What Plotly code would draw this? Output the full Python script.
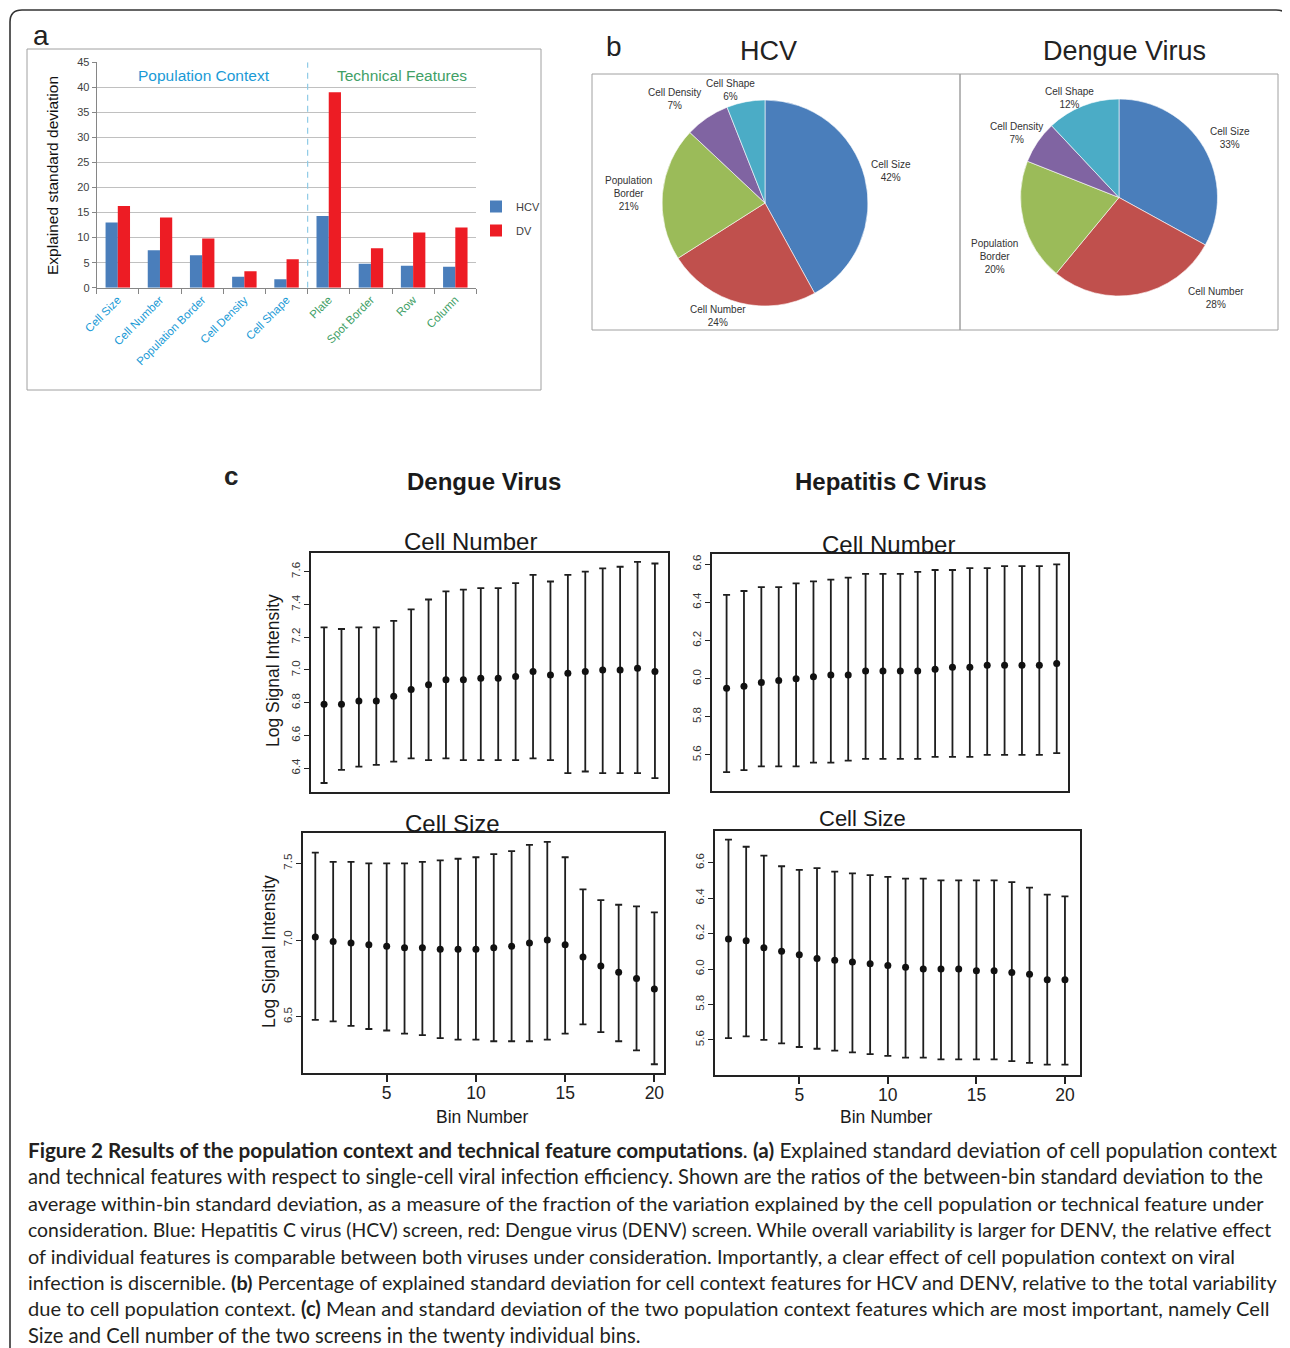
import plotly.graph_objects as go

# ---------------- data ----------------
# Panel a: explained standard deviation per feature
features = ["Cell Size", "Cell Number", "Population Border", "Cell Density", "Cell Shape",
            "Plate", "Spot Border", "Row", "Column"]
feature_group = ["context", "context", "context", "context", "context",
                 "technical", "technical", "technical", "technical"]
hcv_expl = [13.0, 7.5, 6.5, 2.2, 1.7, 14.3, 4.8, 4.4, 4.2]
dv_expl = [16.3, 14.0, 9.8, 3.3, 5.7, 39.0, 7.9, 11.0, 12.0]
y_ticks_a = [0, 5, 10, 15, 20, 25, 30, 35, 40, 45]

# Panel b: share of explained SD (%)
pie_labels = ["Cell Size", "Cell Number", "Population Border", "Cell Density", "Cell Shape"]
hcv_pct = [42, 24, 21, 7, 6]
dengue_pct = [33, 28, 20, 7, 12]

# Panel c: mean and mean +/- SD per bin
bins = [1, 2, 3, 4, 5, 6, 7, 8, 9, 10, 11, 12, 13, 14, 15, 16, 17, 18, 19, 20]

dv_num_mean = [6.79, 6.79, 6.81, 6.81, 6.84, 6.88, 6.91, 6.94, 6.94, 6.95,
               6.95, 6.96, 6.99, 6.97, 6.98, 6.99, 7.00, 7.00, 7.01, 6.99]
dv_num_upper = [7.26, 7.25, 7.26, 7.26, 7.30, 7.37, 7.43, 7.48, 7.49, 7.50,
                7.50, 7.53, 7.58, 7.54, 7.58, 7.60, 7.62, 7.63, 7.66, 7.65]
dv_num_lower = [6.31, 6.39, 6.41, 6.42, 6.44, 6.46, 6.45, 6.46, 6.45, 6.45,
                6.45, 6.45, 6.46, 6.45, 6.37, 6.38, 6.37, 6.37, 6.37, 6.34]

hcv_num_mean = [5.95, 5.96, 5.98, 5.99, 6.00, 6.01, 6.02, 6.02, 6.04, 6.04,
                6.04, 6.04, 6.05, 6.06, 6.06, 6.07, 6.07, 6.07, 6.07, 6.08]
hcv_num_upper = [6.44, 6.46, 6.48, 6.48, 6.50, 6.51, 6.52, 6.53, 6.55, 6.55,
                 6.55, 6.56, 6.57, 6.57, 6.58, 6.58, 6.59, 6.59, 6.59, 6.60]
hcv_num_lower = [5.51, 5.52, 5.54, 5.54, 5.54, 5.56, 5.56, 5.57, 5.58, 5.58,
                 5.58, 5.58, 5.59, 5.59, 5.59, 5.60, 5.60, 5.60, 5.60, 5.61]

dv_size_mean = [7.02, 6.99, 6.98, 6.97, 6.96, 6.95, 6.95, 6.94, 6.94, 6.94,
                6.95, 6.96, 6.98, 7.00, 6.97, 6.89, 6.83, 6.79, 6.75, 6.68]
dv_size_upper = [7.57, 7.51, 7.51, 7.50, 7.50, 7.50, 7.51, 7.52, 7.53, 7.54,
                 7.56, 7.58, 7.62, 7.64, 7.54, 7.33, 7.26, 7.23, 7.22, 7.18]
dv_size_lower = [6.48, 6.47, 6.44, 6.42, 6.41, 6.39, 6.38, 6.36, 6.35, 6.35,
                 6.34, 6.34, 6.34, 6.35, 6.39, 6.45, 6.40, 6.34, 6.28, 6.19]

hcv_size_mean = [6.17, 6.16, 6.12, 6.10, 6.08, 6.06, 6.05, 6.04, 6.03, 6.02,
                 6.01, 6.00, 6.00, 6.00, 5.99, 5.99, 5.98, 5.97, 5.94, 5.94]
hcv_size_upper = [6.73, 6.69, 6.64, 6.58, 6.56, 6.57, 6.55, 6.54, 6.53, 6.52,
                  6.51, 6.51, 6.50, 6.50, 6.50, 6.50, 6.49, 6.46, 6.42, 6.41]
hcv_size_lower = [5.61, 5.62, 5.60, 5.58, 5.56, 5.55, 5.54, 5.53, 5.52, 5.51,
                  5.50, 5.50, 5.49, 5.49, 5.49, 5.49, 5.48, 5.47, 5.46, 5.46]

ticks_dv_num = [6.4, 6.6, 6.8, 7.0, 7.2, 7.4, 7.6]
ticks_hcv = [5.6, 5.8, 6.0, 6.2, 6.4, 6.6]
ticks_dv_size = [6.5, 7.0, 7.5]
bin_ticks = [5, 10, 15, 20]

# ---------------- layout helpers ----------------
# page is 1290 x 1348; the HTML body keeps an 8px margin
PAGE_W, PAGE_H = 1290, 1348
OFF = 8
W, H = PAGE_W - OFF, PAGE_H - OFF
def px(x):
    return (x - OFF) / W
def py(y):
    return 1 - (y - OFF) / H

FONT = "Liberation Sans, Arial, sans-serif"
CAP_FONT = "Lato, Open Sans, sans-serif"
ctx_color = "#1a9ad6"
tech_color = "#41a066"
pie_colors = ["#4a7ebb", "#c0504d", "#9bbb59", "#8064a2", "#4bacc6"]

fig = go.Figure()

# ---- panel a bars
fig.add_trace(go.Bar(x=features, y=hcv_expl, name="HCV", marker=dict(color="#4a7ebb", line=dict(width=0)),
                     xaxis="x", yaxis="y", legendgroup="h"))
fig.add_trace(go.Bar(x=features, y=dv_expl, name="DV", marker=dict(color="#ed1c24", line=dict(width=0)),
                     xaxis="x", yaxis="y", legendgroup="d"))

# ---- panel b pies
fig.add_trace(go.Pie(labels=pie_labels, values=hcv_pct, sort=False, direction="clockwise", rotation=0,
                     textinfo="none", marker=dict(colors=pie_colors, line=dict(color="white", width=0.6)),
                     domain=dict(x=[px(662), px(868)], y=[py(306), py(100)]), showlegend=False))
fig.add_trace(go.Pie(labels=pie_labels, values=dengue_pct, sort=False, direction="clockwise", rotation=0,
                     textinfo="none", marker=dict(colors=pie_colors, line=dict(color="white", width=0.6)),
                     domain=dict(x=[px(1020), px(1218)], y=[py(296), py(99)]), showlegend=False))

# ---- panel c error-bar plots
c_series = [
    ("x2", "y2", dv_num_mean, dv_num_upper, dv_num_lower),
    ("x3", "y3", hcv_num_mean, hcv_num_upper, hcv_num_lower),
    ("x4", "y4", dv_size_mean, dv_size_upper, dv_size_lower),
    ("x5", "y5", hcv_size_mean, hcv_size_upper, hcv_size_lower),
]
for xa, ya, mean, up, lo in c_series:
    fig.add_trace(go.Scatter(
        x=bins, y=mean, mode="markers", xaxis=xa, yaxis=ya, showlegend=False,
        marker=dict(color="#111111", size=7),
        error_y=dict(type="data", symmetric=False,
                     array=[u - m for u, m in zip(up, mean)],
                     arrayminus=[m - l for m, l in zip(mean, lo)],
                     color="#1e1e1e", thickness=1.8, width=3.5)))

# ---- axes
ticktext_a = [
    f"<span style='color:{ctx_color if g == 'context' else tech_color}'>{f}</span>"
    for f, g in zip(features, feature_group)
]

frame = dict(showline=True, mirror=True, linecolor="#222222", linewidth=1.5,
             showgrid=False, zeroline=False, automargin=False)
ytick_c = dict(ticks="outside", ticklen=5, tickwidth=1.2, tickcolor="#222222", tickangle=-90,
               tickfont=dict(size=11.5, color="#333333", family=FONT), tickformat=".1f")
xtick_top = dict(showticklabels=False, ticks="")
xtick_bot = dict(ticks="outside", ticklen=7, tickwidth=1.5, tickcolor="#222222", tickvals=bin_ticks,
                 ticklabelstandoff=-4,
                 tickfont=dict(size=17.5, color="#222222", family=FONT))

fig.update_layout(
    template="none",
    width=W, height=H, autosize=False, margin=dict(l=0, r=0, t=0, b=0, pad=0),
    paper_bgcolor="white", plot_bgcolor="white",
    font=dict(family=FONT, color="#222222"),
    barmode="group", bargap=0.42, bargroupgap=0.0,
    showlegend=True,
    legend=dict(x=px(476), y=py(192), xanchor="left", yanchor="top",
                font=dict(size=11, color="#404040", family=FONT),
                bgcolor="rgba(0,0,0,0)", tracegroupgap=5, itemwidth=30),
    xaxis=dict(domain=[px(96.7), px(476.4)], anchor="y", type="category", range=[-0.5, 8.5],
               tickson="boundaries", ticks="outside", ticklen=5, tickcolor="#868686",
               showline=True, linecolor="#868686", linewidth=1, showgrid=False, zeroline=False,
               automargin=False,
               tickangle=-45, tickvals=features, ticktext=ticktext_a,
               tickfont=dict(size=11.5, family=FONT)),
    yaxis=dict(domain=[py(287.7), py(62.3)], anchor="x", range=[0, 45], tickvals=y_ticks_a,
               showgrid=True, gridcolor="#c0c0c0", gridwidth=1, zeroline=False,
               showline=True, linecolor="#868686", linewidth=1, automargin=False,
               ticks="outside", ticklen=4, tickcolor="#868686",
               tickfont=dict(size=11, color="#404040", family=FONT)),
    xaxis2=dict(domain=[px(311), px(668)], anchor="y2", range=[0.25, 20.75], **frame, **xtick_top),
    yaxis2=dict(domain=[py(792), py(553)], anchor="x2", range=[6.255, 7.714], tickvals=ticks_dv_num,
                **frame, **ytick_c),
    xaxis3=dict(domain=[px(712), px(1068)], anchor="y3", range=[0.16, 20.65], **frame, **xtick_top),
    yaxis3=dict(domain=[py(791), py(554)], anchor="x3", range=[5.411, 6.654], tickvals=ticks_hcv,
                **frame, **ytick_c),
    xaxis4=dict(domain=[px(303), px(664)], anchor="y4", range=[0.31, 20.54], **frame, **xtick_bot),
    yaxis4=dict(domain=[py(1073), py(833)], anchor="x4", range=[6.133, 7.698], tickvals=ticks_dv_size,
                **frame, **ytick_c),
    xaxis5=dict(domain=[px(715), px(1080)], anchor="y5", range=[0.24, 20.85], **frame, **xtick_bot),
    yaxis5=dict(domain=[py(1075), py(831)], anchor="x5", range=[5.402, 6.779], tickvals=ticks_hcv,
                **frame, **ytick_c),
)

# ---- shapes: panel boxes, separator, outer border
shapes = []
def rect(x0, y0, x1, y1, color="#a0a0a0", w=1):
    return dict(type="rect", xref="paper", yref="paper", x0=px(x0), x1=px(x1), y0=py(y1), y1=py(y0),
                line=dict(color=color, width=w), fillcolor="rgba(0,0,0,0)", layer="below")
shapes.append(rect(27, 49, 541, 390))
shapes.append(rect(592, 74, 960, 330))
shapes.append(rect(960, 74, 1278, 330))
shapes.append(dict(type="line", xref="x", yref="y", x0=4.5, x1=4.5, y0=0, y1=45,
                   line=dict(color="#8ecae6", width=1.2, dash="6px,5px")))
border = (f"M {px(10)},{py(1348)} L {px(10)},{py(22)} Q {px(10)},{py(10)} {px(22)},{py(10)} "
          f"L {px(1276)},{py(10)} Q {px(1288)},{py(10)} {px(1288)},{py(20)}")
shapes.append(dict(type="path", xref="paper", yref="paper", path=border,
                   line=dict(color="#333333", width=1.6)))
fig.update_layout(shapes=shapes)

# ---- annotations
anns = []
def ann(text, x, y, size, color="#222222", family=FONT, xanchor="center", yanchor="middle",
        angle=0, align="center"):
    anns.append(dict(text=text, x=px(x), y=py(y), xref="paper", yref="paper", showarrow=False,
                     xanchor=xanchor, yanchor=yanchor, textangle=angle, align=align,
                     font=dict(size=size, color=color, family=family)))

# panel letters
ann("a", 41, 36, 28, "#222222")
ann("b", 614, 46, 28, "#222222")
ann("<b>c</b>", 231, 476, 26, "#222222")

# panel a texts
ann("Explained standard deviation", 53, 176, 15.5, "#111111", angle=-90)
ann("Population Context", 204, 76, 15.5, ctx_color)
ann("Technical Features", 402, 76, 15.5, tech_color)

# panel b titles
ann("HCV", 768, 51, 27, "#222222")
ann("Dengue Virus", 1124, 51, 27, "#222222")

# pie labels
display = {"Population Border": "Population<br>Border"}
hcv_label_pos = [(891, 171), (718, 316), (628, 193), (674, 99), (730, 90)]
den_label_pos = [(1230, 138), (1216, 298), (994, 256), (1017, 133), (1069, 98)]
for lab, val, (lx, ly) in zip(pie_labels, hcv_pct, hcv_label_pos):
    ann(f"{display.get(lab, lab)}<br>{val}%", lx, ly, 10, "#333333")
for lab, val, (lx, ly) in zip(pie_labels, dengue_pct, den_label_pos):
    ann(f"{display.get(lab, lab)}<br>{val}%", lx, ly, 10, "#333333")

# panel c titles
ann("<b>Dengue Virus</b>", 484, 482, 24, "#1a1a1a")
ann("<b>Hepatitis C Virus</b>", 891, 482, 24, "#1a1a1a")
ann("Cell Number", 471, 541, 24, "#1a1a1a")
ann("Cell Number", 888, 544, 24, "#1a1a1a")
ann("Cell Size", 452, 823, 24, "#1a1a1a")
ann("Cell Size", 862, 818, 22, "#1a1a1a")
ann("Log Signal Intensity", 273, 671, 17.5, "#1a1a1a", angle=-90)
ann("Log Signal Intensity", 269, 952, 17.5, "#1a1a1a", angle=-90)
ann("Bin Number", 482, 1117, 17.5, "#1a1a1a")
ann("Bin Number", 886, 1117, 17.5, "#1a1a1a")

# caption
caption_lines = [
    "<b>Figure 2 Results of the population context and technical feature computations</b>. <b>(a)</b> Explained standard deviation of cell population context",
    "and technical features with respect to single-cell viral infection efficiency. Shown are the ratios of the between-bin standard deviation to the",
    "average within-bin standard deviation, as a measure of the fraction of the variation explained by the cell population or technical feature under",
    "consideration. Blue: Hepatitis C virus (HCV) screen, red: Dengue virus (DENV) screen. While overall variability is larger for DENV, the relative effect",
    "of individual features is comparable between both viruses under consideration. Importantly, a clear effect of cell population context on viral",
    "infection is discernible. <b>(b)</b> Percentage of explained standard deviation for cell context features for HCV and DENV, relative to the total variability",
    "due to cell population context. <b>(c)</b> Mean and standard deviation of the two population context features which are most important, namely Cell",
    "Size and Cell number of the two screens in the twenty individual bins.",
]
cap_y = [1150, 1176, 1203, 1229, 1256, 1282, 1308, 1335]
cap_size = [20.7, 20.2, 20.0, 19.4, 19.9, 19.8, 20.1, 20.2]
for line, yy, sz in zip(caption_lines, cap_y, cap_size):
    ann(line, 26, yy, sz, "#231f20", family=CAP_FONT, xanchor="left", align="left")

fig.update_layout(annotations=anns)

fig.write_html("out.html")
